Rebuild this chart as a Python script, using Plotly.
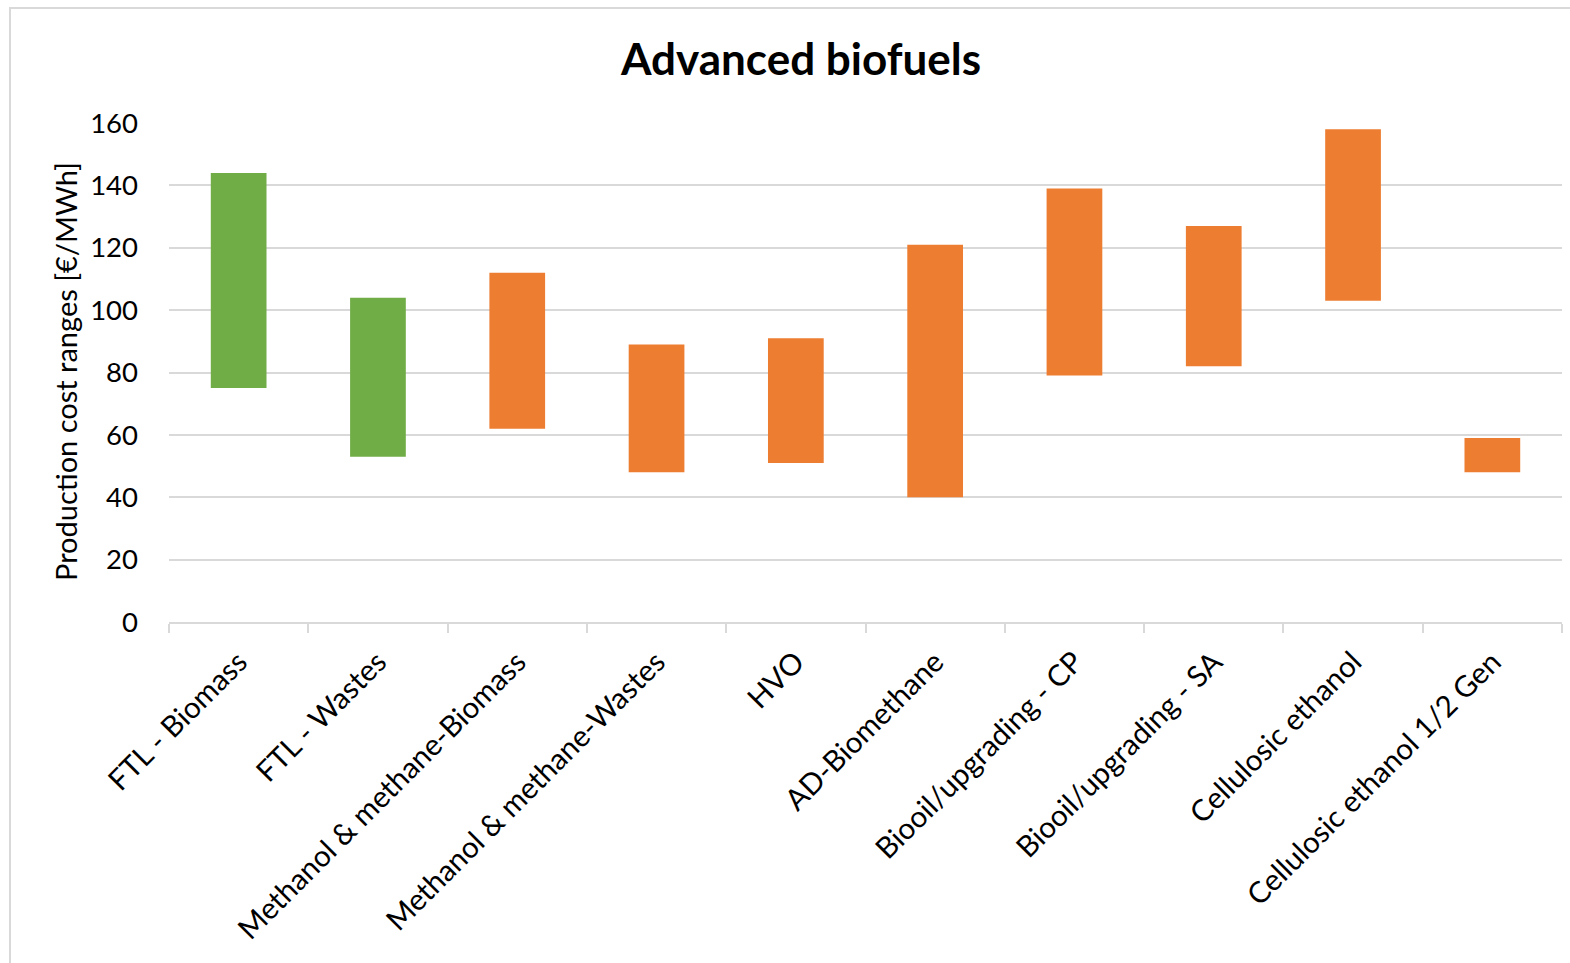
import plotly.graph_objects as go

# Production cost ranges per pathway (€/MWh)
categories = [
    "FTL - Biomass",
    "FTL - Wastes",
    "Methanol & methane-Biomass",
    "Methanol & methane-Wastes",
    "HVO",
    "AD-Biomethane",
    "Biooil/upgrading - CP",
    "Biooil/upgrading - SA",
    "Cellulosic ethanol",
    "Cellulosic ethanol 1/2 Gen",
]
cost_low = [75, 53, 62, 48, 51, 40, 79, 82, 103, 48]
cost_high = [144, 104, 112, 89, 91, 121, 139, 127, 158, 59]
pathway_group = ["ftl", "ftl", "other", "other", "other", "other", "other", "other", "other", "other"]
y_ticks = [0, 20, 40, 60, 80, 100, 120, 140, 160]

group_colors = {"ftl": "#70AD47", "other": "#ED7D31"}
bar_colors = [group_colors[g] for g in pathway_group]
spans = [h - l for l, h in zip(cost_low, cost_high)]

W, H = 1570, 963
ml, mr, mt, mb = 169, 8, 123, 341
pw, ph = W - ml - mr, H - mt - mb

font_family = "Lato, 'Open Sans', sans-serif"

fig = go.Figure(
    go.Bar(
        x=categories,
        y=spans,
        base=cost_low,
        marker=dict(color=bar_colors, line=dict(width=0)),
        width=0.4,
        hovertemplate="%{x}: %{base}–%{customdata} €/MWh<extra></extra>",
        customdata=cost_high,
    )
)

fig.update_layout(
    width=W,
    height=H,
    margin=dict(l=ml, r=mr, t=mt, b=mb),
    paper_bgcolor="white",
    plot_bgcolor="white",
    showlegend=False,
    font=dict(family=font_family, color="#000000"),
    title=dict(
        text="<b>Advanced biofuels</b>",
        font=dict(size=44, family=font_family, color="#000000"),
        xref="container",
        x=801 / W,
        xanchor="center",
        yref="container",
        y=1 - 60 / H,
        yanchor="middle",
    ),
    xaxis=dict(
        type="category",
        tickangle=-45,
        tickfont=dict(size=29.5),
        showline=True,
        linecolor="#D9D9D9",
        linewidth=2,
        ticks="outside",
        tickson="boundaries",
        ticklen=9,
        tickwidth=2,
        tickcolor="#D9D9D9",
        showgrid=False,
        ticklabelstandoff=9,
        range=[-0.5, len(categories) - 0.5],
    ),
    yaxis=dict(
        range=[0, 160],
        tickvals=y_ticks,
        tickfont=dict(size=27.5),
        showgrid=True,
        gridcolor="#D9D9D9",
        gridwidth=2,
        zeroline=False,
        showline=False,
        ticks="",
        ticklabelstandoff=30,
    ),
    annotations=[
        dict(
            text="Production cost ranges [€/MWh]",
            xref="paper",
            yref="paper",
            x=(65 - ml) / pw,
            y=(622 - 372) / ph,
            xanchor="center",
            yanchor="middle",
            textangle=-90,
            showarrow=False,
            font=dict(size=29, family=font_family, color="#000000"),
        )
    ],
    shapes=[
        dict(
            type="rect",
            xref="paper",
            yref="paper",
            x0=(10 - ml) / pw,
            x1=1.2,
            y0=-1.5,
            y1=1 + (mt - 8) / ph,
            line=dict(color="#D9D9D9", width=2),
            fillcolor="rgba(0,0,0,0)",
            layer="below",
        )
    ],
)

fig.write_html("out.html")
